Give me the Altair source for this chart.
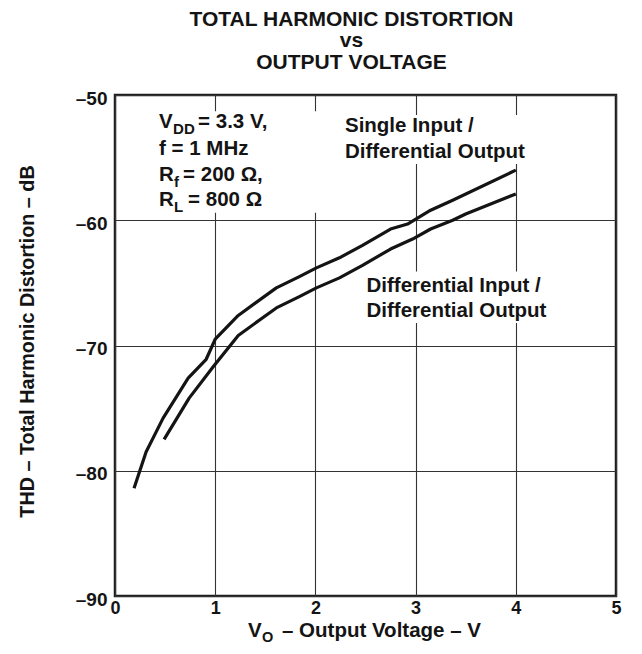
import altair as alt
import pandas as pd

FONT = "Liberation Sans"
INK = "#141414"

# ---- data ----
single_v = [0.19, 0.31, 0.48, 0.73, 0.91, 1.00, 1.23, 1.61, 1.84, 2.01, 2.24, 2.47, 2.75, 2.92, 3.15, 3.37, 4.00]
single_thd = [-81.4, -78.5, -75.8, -72.6, -71.1, -69.5, -67.6, -65.4, -64.5, -63.8, -63.0, -62.0, -60.7, -60.3, -59.2, -58.4, -56.0]

diff_v = [0.49, 0.74, 0.98, 1.23, 1.61, 1.84, 2.01, 2.24, 2.47, 2.75, 2.97, 3.15, 3.37, 3.50, 4.00]
diff_thd = [-77.5, -74.2, -71.7, -69.2, -67.0, -66.1, -65.4, -64.6, -63.6, -62.3, -61.5, -60.7, -60.0, -59.5, -57.9]

x_ticks = [0, 1, 2, 3, 4, 5]
y_ticks = [-90, -80, -70, -60, -50]
x_domain = [0, 5]
y_domain = [-90, -50]

title_lines = ["TOTAL HARMONIC DISTORTION", "vs", "OUTPUT VOLTAGE"]
y_title = "THD \u2013 Total Harmonic Distortion \u2013 dB"

curves = pd.concat([
    pd.DataFrame({"v": single_v, "thd": single_thd, "series": "Single Input / Differential Output"}),
    pd.DataFrame({"v": diff_v, "thd": diff_thd, "series": "Differential Input / Differential Output"}),
])

# white boxes behind the annotation text (grid is interrupted there)
masks = pd.DataFrame({
    "x": [0.35, 2.20, 2.45], "x2": [2.10, 4.20, 4.35],
    "y": [-51.3, -51.6, -64.1], "y2": [-59.4, -55.5, -68.2],
})

xscale = alt.Scale(domain=x_domain, nice=False, zero=False)
yscale = alt.Scale(domain=y_domain, nice=False, zero=False)
xaxis = alt.Axis(values=x_ticks, title=None, grid=True, ticks=False, domain=False,
                 labelFlush=False, labelOverlap=False, labelPadding=3, labelFontSize=18,
                 format="d")
yaxis = alt.Axis(values=y_ticks, title=y_title, grid=True, ticks=False, domain=False,
                 labelOverlap=False, labelPadding=8, labelOffset=3,
                 labelExpr="datum.value < 0 ? '\u2013' + abs(datum.value) : datum.label",
                 titleX=-88, titleY=246, titleAngle=270, titleAlign="center",
                 titleBaseline="middle")


def X(f):
    return alt.X(f, type="quantitative", scale=xscale, axis=xaxis)


def Y(f):
    return alt.Y(f, type="quantitative", scale=yscale, axis=yaxis)


mask_layer = alt.Chart(masks).mark_rect(color="white").encode(
    x=X("x"), x2="x2", y=Y("y"), y2="y2")

line_layer = alt.Chart(curves).mark_line(color=INK, strokeWidth=3.2, strokeJoin="round").encode(
    x=X("v"), y=Y("thd"), detail="series:N")


def text_layer(texts, xs, ys, size=20.5, dx=0, dy=0):
    df = pd.DataFrame({"t": texts, "x": xs, "y": ys})
    return alt.Chart(df).mark_text(align="left", baseline="alphabetic", font=FONT,
                                   fontWeight="bold", fontSize=size, dx=dx, dy=dy,
                                   color=INK).encode(x=X("x"), y=Y("y"), text="t:N")


ann = [
    text_layer(["Single Input /", "Differential Output"], [2.295, 2.295], [-52.97, -55.05]),
    text_layer(["Differential Input /", "Differential Output"], [2.51, 2.51], [-65.72, -67.71]),
    text_layer(["V", "f = 1 MHz", "R", "R"], [0.44] * 4, [-52.63, -54.78, -56.9, -58.9]),
    text_layer(["DD"], [0.44], [-52.63], size=15, dx=14, dy=6),
    text_layer(["= 3.3 V,"], [0.44], [-52.63], dx=39),
    text_layer(["f"], [0.44], [-56.9], size=15, dx=15, dy=6),
    text_layer(["= 200 \u03a9,"], [0.44], [-56.9], dx=24),
    text_layer(["L"], [0.44], [-58.9], size=15, dx=15, dy=6),
    text_layer(["= 800 \u03a9"], [0.44], [-58.9], dx=29),
]


def px_text(t, x, y, size=20.5):
    return alt.Chart(pd.DataFrame({"t": [t]})).mark_text(
        align="left", baseline="alphabetic", font=FONT, fontWeight="bold",
        fontSize=size, color=INK).encode(x=alt.value(x), y=alt.value(y), text="t:N")


x_title = [
    px_text("V", 133, 542),
    px_text("O", 147, 547, size=14.5),
    px_text("\u2013 Output Voltage \u2013 V", 167, 542),
]

chart = alt.layer(mask_layer, line_layer, *ann, *x_title).properties(
    width=501, height=501,
    padding={"left": 107, "top": 87, "right": 18, "bottom": 50},
    autosize=alt.AutoSizeParams(type="none"),
    background="white",
    title=alt.TitleParams(text=title_lines, font=FONT, fontSize=21, fontWeight="bold",
                          color=INK, lineHeight=21.6, anchor="middle", dx=-14, offset=16),
).configure_view(stroke="#1e1e1e", strokeWidth=2.5).configure_axis(
    labelFont=FONT, labelFontSize=19, labelFontWeight="bold", labelColor=INK,
    titleFont=FONT, titleFontSize=19.8, titleFontWeight="bold", titleColor=INK,
    gridColor="#333333", gridWidth=1.1, gridOpacity=1,
)

chart.save("out.html", embed_options={"renderer": "svg", "actions": False})
